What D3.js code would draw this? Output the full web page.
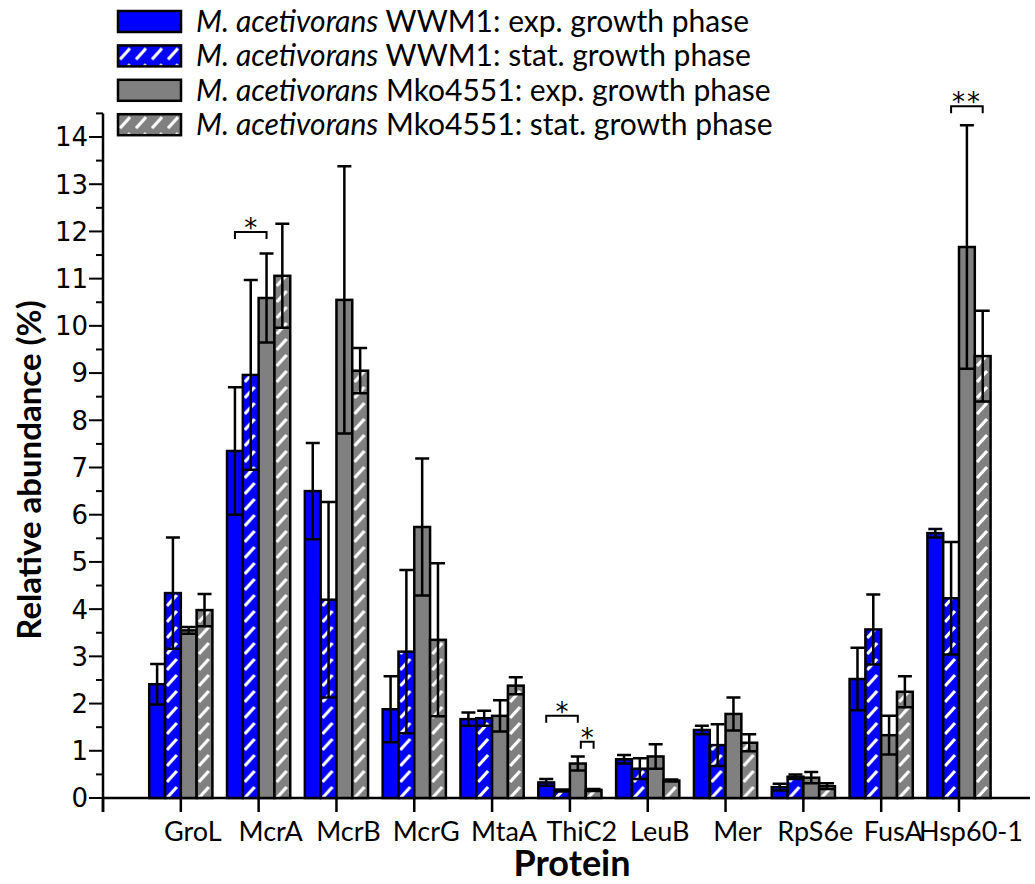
<!DOCTYPE html>
<meta charset="utf-8">
<script src="https://d3js.org/d3.v7.min.js"></script>
<style>
  body { margin: 0; background: #fff; }
  svg { font-family: Lato, "Open Sans", sans-serif; }
  .tick-num { font-family: "DejaVu Sans", sans-serif; font-size: 26px; }
  .cat { font-size: 27px; }
  .leg { font-size: 30px; }
</style>
<body>
<div id="chart"></div>
<script>
// categories and series (relative abundance %, mean and error)
var proteins = ["GroL", "McrA", "McrB", "McrG", "MtaA", "ThiC2", "LeuB", "Mer", "RpS6e", "FusA", "Hsp60-1"];
var wwm1Exp    = [2.41, 7.35, 6.50, 1.88, 1.67, 0.33, 0.82, 1.44, 0.23, 2.52, 5.61];
var wwm1ExpErr = [0.43, 1.35, 1.02, 0.70, 0.14, 0.07, 0.09, 0.09, 0.07, 0.66, 0.09];
var wwm1Stat    = [4.34, 8.96, 4.20, 3.10, 1.69, 0.16, 0.62, 1.12, 0.45, 3.57, 4.23];
var wwm1StatErr = [1.18, 2.01, 2.07, 1.73, 0.16, 0.02, 0.22, 0.44, 0.05, 0.74, 1.19];
var mkoExp    = [3.55, 10.59, 10.55, 5.74, 1.74, 0.73, 0.88, 1.78, 0.43, 1.33, 11.67];
var mkoExpErr = [0.07, 0.94, 2.83, 1.45, 0.33, 0.15, 0.26, 0.35, 0.12, 0.41, 2.58];
var mkoStat    = [3.98, 11.06, 9.05, 3.35, 2.38, 0.17, 0.37, 1.17, 0.25, 2.25, 9.36];
var mkoStatErr = [0.34, 1.10, 0.48, 1.62, 0.18, 0.02, 0.02, 0.18, 0.06, 0.33, 0.96];

var seriesNames = ["WWM1: exp. growth phase", "WWM1: stat. growth phase",
                   "Mko4551: exp. growth phase", "Mko4551: stat. growth phase"];
var yTicks = d3.range(0, 15);

// significance brackets: protein, from bar, to bar, height, label
var sigProtein = ["McrA", "ThiC2", "ThiC2", "Hsp60-1"];
var sigFrom = [0, 0, 2, 1];
var sigTo   = [2, 2, 3, 3];
var sigY    = [11.99, 1.74, 1.19, 14.65];
var sigText = ["*", "*", "*", "**"];

var series = [
  {vals: wwm1Exp, err: wwm1ExpErr, color: "#0000ff", hatch: false},
  {vals: wwm1Stat, err: wwm1StatErr, color: "#0000ff", hatch: true},
  {vals: mkoExp, err: mkoExpErr, color: "#808080", hatch: false},
  {vals: mkoStat, err: mkoStatErr, color: "#808080", hatch: true}
];

var width = 1035, height = 884;
var svg = d3.select("#chart").append("svg")
    .attr("width", width).attr("height", height);

var defs = svg.append("defs");
["blue", "gray"].forEach(function(n, i) {
  var p = defs.append("pattern")
      .attr("id", "hatch-" + n)
      .attr("patternUnits", "userSpaceOnUse")
      .attr("width", 16).attr("height", 16);
  p.append("rect").attr("width", 16).attr("height", 16)
      .attr("fill", i == 0 ? "#0000ff" : "#808080");
  p.append("path")
      .attr("d", "M2,14 L12,3 M-6,6 L-2,2 M18,14 L22,10")
      .attr("stroke", "#fff").attr("stroke-width", 3.2);
});

function fillOf(s) {
  if (!s.hatch) return s.color;
  return s.color == "#0000ff" ? "url(#hatch-blue)" : "url(#hatch-gray)";
}

var y = d3.scaleLinear().domain([0, 14]).range([798, 137]);
var x = d3.scalePoint().domain([""].concat(proteins)).range([103, 959]);
var barW = 15.8;

// axes
var yAxis = svg.append("g").attr("transform", "translate(103,0)");
yAxis.append("line").attr("x1", 0).attr("x2", 0)
    .attr("y1", y(14.5)).attr("y2", 812)
    .attr("stroke", "#000").attr("stroke-width", 2.5);
yAxis.selectAll(".minor").data(d3.range(0.5, 14.6, 1)).enter().append("line")
    .attr("x1", -7).attr("x2", 0)
    .attr("y1", function(d) { return y(d); }).attr("y2", function(d) { return y(d); })
    .attr("stroke", "#000").attr("stroke-width", 2);
yAxis.selectAll(".major").data(yTicks).enter().append("line")
    .attr("x1", -14).attr("x2", 0)
    .attr("y1", function(d) { return y(d); }).attr("y2", function(d) { return y(d); })
    .attr("stroke", "#000").attr("stroke-width", 2);
yAxis.selectAll(".tick-num").data(yTicks).enter().append("text")
    .attr("class", "tick-num")
    .attr("x", -15).attr("y", function(d) { return y(d); })
    .attr("dy", "0.36em").attr("text-anchor", "end")
    .text(function(d) { return d; });

svg.append("line").attr("x1", 103).attr("x2", 1030)
    .attr("y1", y(0)).attr("y2", y(0))
    .attr("stroke", "#000").attr("stroke-width", 2.5);

// bars
var groups = svg.append("g").selectAll("g").data(proteins).enter().append("g")
    .attr("transform", function(d) { return "translate(" + x(d) + ",0)"; });

series.forEach(function(s, k) {
  var x0 = -2 * barW + k * barW;
  groups.append("rect")
      .attr("x", x0).attr("width", barW)
      .attr("y", function(d, i) { return y(s.vals[i]); })
      .attr("height", function(d, i) { return y(0) - y(s.vals[i]); })
      .attr("fill", fillOf(s))
      .attr("stroke", "#000").attr("stroke-width", 2.5);
});

// error bars on top
series.forEach(function(s, k) {
  var cx = -2 * barW + k * barW + barW / 2;
  var eb = groups.append("g").attr("stroke", "#000").attr("stroke-width", 2.5).attr("fill", "none");
  eb.append("path").attr("d", function(d, i) {
    var hi = y(s.vals[i] + s.err[i]), lo = y(Math.max(0, s.vals[i] - s.err[i]));
    return "M" + cx + "," + hi + "V" + lo +
      "M" + (cx - 7) + "," + hi + "H" + (cx + 7) +
      "M" + (cx - barW / 2) + "," + lo + "H" + (cx + barW / 2);
  });
});

// category ticks and labels
svg.append("g").selectAll("line").data([""].concat(proteins)).enter().append("line")
    .attr("x1", function(d) { return x(d); }).attr("x2", function(d) { return x(d); })
    .attr("y1", y(0)).attr("y2", 812)
    .attr("stroke", "#000").attr("stroke-width", 2.5);
svg.append("g").selectAll("text").data(proteins).enter().append("text")
    .attr("class", "cat")
    .attr("x", function(d) { return x(d) + 12; }).attr("y", 841)
    .attr("text-anchor", "middle")
    .text(function(d) { return d; });

// significance
sigProtein.forEach(function(p, j) {
  var x1 = x(p) - 2 * barW + sigFrom[j] * barW + barW / 2;
  var x2 = x(p) - 2 * barW + sigTo[j] * barW + barW / 2;
  if (sigFrom[j] == 2 && sigTo[j] == 3) x1 += 3;
  var yy = y(sigY[j]);
  svg.append("path")
      .attr("d", "M" + x1 + "," + (yy + 7) + "V" + yy + "H" + x2 + "V" + (yy + 7))
      .attr("fill", "none").attr("stroke", "#000").attr("stroke-width", 2);
  svg.append("text")
      .attr("x", (x1 + x2) / 2).attr("y", yy + 5)
      .attr("text-anchor", "middle")
      .attr("fill", "#000")
      .attr("font-family", "DejaVu Sans, sans-serif").attr("font-size", 26)
      .attr("letter-spacing", sigText[j].length > 1 ? 2 : 0)
      .text(sigText[j]);
});

// axis titles
svg.append("text")
    .attr("transform", "translate(41,470) rotate(-90)")
    .attr("text-anchor", "middle")
    .attr("font-weight", "bold").attr("font-size", 33)
    .text("Relative abundance (%)");
svg.append("text")
    .attr("x", 572).attr("y", 876)
    .attr("text-anchor", "middle")
    .attr("font-weight", "bold").attr("font-size", 36)
    .text("Protein");

// legend
var leg = svg.append("g").selectAll("g").data(series).enter().append("g")
    .attr("transform", function(d, i) { return "translate(118," + (11 + i * 34.4) + ")"; });
leg.append("rect").attr("width", 63).attr("height", 21)
    .attr("fill", function(d) { return fillOf(d); })
    .attr("stroke", "#000").attr("stroke-width", 2.5);
var lt = leg.append("text").attr("class", "leg").attr("x", 78).attr("y", 21);
lt.append("tspan").attr("font-style", "italic").text("M. acetivorans");
lt.append("tspan").text(function(d, i) { return " " + seriesNames[i]; });
</script>
</body>
